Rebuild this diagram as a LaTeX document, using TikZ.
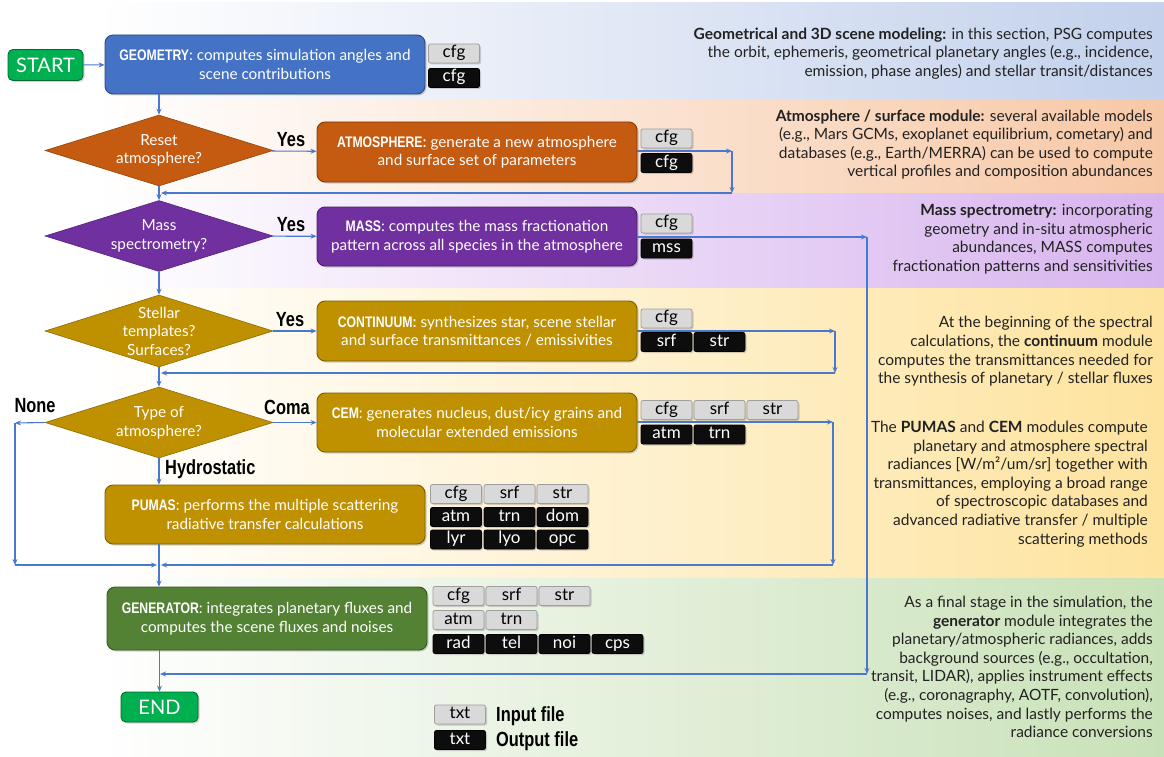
\documentclass[tikz,border=0pt]{standalone}
\usepackage{fontspec}
\setmainfont{Lato}
\newfontfamily\cond[FakeStretch=0.8]{Liberation Sans}
\usetikzlibrary{shapes.geometric,arrows.meta,shadows}
\definecolor{cgeo}{HTML}{4472C4}
\definecolor{catm}{HTML}{C55A11}
\definecolor{cmass}{HTML}{7030A0}
\definecolor{cgold}{HTML}{BF9000}
\definecolor{cgen}{HTML}{548235}
\definecolor{cstart}{HTML}{00B050}
\definecolor{carrow}{HTML}{4A78CC}
\definecolor{tagin}{HTML}{D9D9D9}
\definecolor{tagout}{HTML}{0D0D0D}
\definecolor{bblue}{HTML}{C3D1EC}
\definecolor{borange}{HTML}{F7C8A6}
\definecolor{bpurple}{HTML}{D7B4EE}
\definecolor{byellow}{HTML}{FEE39E}
\definecolor{bgreen}{HTML}{C9E1B8}
\definecolor{ntext}{HTML}{222222}
\newcommand\bxfont{\fontsize{15.3}{18.5}\selectfont}
\newcommand\ntfont{\fontsize{15.5}{18.6}\selectfont}
\newcommand\hd[1]{{\cond\bfseries #1}}
\begin{document}
\begin{tikzpicture}[x=1pt,y=-1pt,
  shd/.style={drop shadow={shadow xshift=1.5pt,shadow yshift=-1.5pt,opacity=0.35}},
  flowbox/.style={draw=#1!65!black, fill=#1, rounded corners=8pt, line width=0.9pt,
    minimum width=320pt, minimum height=59pt, inner sep=2pt, align=center,
    text=white, font=\bxfont, shd},
  termbox/.style={draw=cstart!60!black, fill=cstart, rounded corners=5pt, line width=0.9pt,
    minimum height=31pt, inner sep=2pt, text=white, font=\fontsize{20}{20}\selectfont, shd},
  decide/.style={diamond, draw=#1!75!black, fill=#1, line width=0.6pt, aspect=3.2,
    minimum width=228pt, minimum height=71pt, inner sep=0pt, align=center,
    text=white, font=\bxfont},
  intag/.style={draw=gray!75, fill=tagin, rounded corners=2pt, line width=0.8pt,
    minimum width=51pt, minimum height=19pt, inner sep=0pt,
    text height=11.5pt, text depth=3.5pt,
    font=\fontsize{17}{17}\selectfont, shd},
  outtag/.style={intag, draw=black, fill=tagout, text=white},
  arr/.style={draw=carrow, line width=1.1pt, -{Stealth[length=6pt,width=5pt]}},
  lab/.style={font=\fontsize{20.5}{20.5}\selectfont\cond\bfseries, inner sep=0pt},
  note/.style={align=right, anchor=east, text=ntext, font=\ntfont, inner sep=0pt}
]
\useasboundingbox (0,0) rectangle (1164,757);
\fill[white] (0,0) rectangle (1164,757);
% background bands
\shade[left color=white, right color=bblue] (95,3) rectangle (1164,100);
\shade[left color=white, right color=borange] (95,100) rectangle (1164,193);
\shade[left color=white, right color=bpurple] (95,193) rectangle (1164,288);
\shade[left color=white, right color=byellow] (95,288) rectangle (1164,578);
\shade[left color=white, right color=bgreen] (95,578) rectangle (1164,757);

% main flow
\node[termbox, minimum width=75pt] (start) at (45.5,65) {START};
\node[flowbox=cgeo] (geom) at (265,64.5) {\hd{GEOMETRY}: computes simulation angles and\\scene contributions};
\node[decide=catm] (d1) at (159,150.5) {Reset\\atmosphere?};
\node[flowbox=catm, minimum height=60pt] (atm) at (477,152) {\hd{ATMOSPHERE:} generate a new atmosphere\\and surface set of parameters};
\node[decide=cmass] (d2) at (159,236) {Mass\\spectrometry?};
\node[flowbox=cmass] (mass) at (477,236.5) {\hd{MASS}: computes the mass fractionation\\pattern across all species in the atmosphere};
\node[decide=cgold, minimum height=72pt] (d3) at (159,331) {Stellar\\templates?\\Surfaces?};
\node[flowbox=cgold, minimum height=60pt] (cont) at (477,331) {\hd{CONTINUUM:} synthesizes star, scene stellar\\and surface transmittances / emissivities};
\node[decide=cgold] (d4) at (159,422.5) {Type of\\atmosphere?};
\node[flowbox=cgold] (cem) at (477,422.5) {\hd{CEM}: generates nucleus, dust/icy grains and\\molecular extended emissions};
\node[flowbox=cgold] (pumas) at (265,514.5) {\hd{PUMAS}: performs the multiple scattering\\radiative transfer calculations};
\node[flowbox=cgen, minimum height=63pt] (gen) at (267,618.5) {\hd{GENERATOR}: integrates planetary fluxes and\\computes the scene fluxes and noises};
\node[termbox, minimum width=77pt, minimum height=30pt] (end) at (159.5,707) {END};

% file tags
\node[intag] (g1) at (454,53.5) {cfg};
\node[outtag] (g2) at (454,78) {cfg};
\node[intag] (at1) at (666.5,138.5) {cfg};
\node[outtag] (at2) at (666.5,163) {cfg};
\node[intag] (ms1) at (666.5,223.5) {cfg};
\node[outtag] (ms2) at (666.5,248.5) {mss};
\node[intag] (co1) at (666.5,318.5) {cfg};
\node[outtag] (co2) at (666.5,342) {srf};
\node[outtag] (co3) at (719.5,342) {str};
\node[intag] (ce1) at (666.5,410) {cfg};
\node[intag] (ce2) at (719.5,410) {srf};
\node[intag] (ce3) at (772.5,410) {str};
\node[outtag] (ce4) at (666.5,434.5) {atm};
\node[outtag] (ce5) at (719.5,434.5) {trn};
\node[intag] (pu1) at (456,494) {cfg};
\node[intag] (pu2) at (509.5,494) {srf};
\node[intag] (pu3) at (562.5,494) {str};
\node[outtag] (pu4) at (456,517) {atm};
\node[outtag] (pu5) at (509.5,517) {trn};
\node[outtag] (pu6) at (562.5,517) {dom};
\node[outtag] (pu7) at (456,539.5) {lyr};
\node[outtag] (pu8) at (509.5,539.5) {lyo};
\node[outtag] (pu9) at (562.5,539.5) {opc};
\node[intag] (ge1) at (458.5,596) {cfg};
\node[intag] (ge2) at (511.5,596) {srf};
\node[intag] (ge3) at (564.5,596) {str};
\node[intag] (ge4) at (458.5,620) {atm};
\node[intag] (ge5) at (511.5,620) {trn};
\node[outtag] (ge6) at (458.5,644) {rad};
\node[outtag] (ge7) at (511.5,644) {tel};
\node[outtag] (ge8) at (564.5,644) {noi};
\node[outtag] (ge9) at (617.5,644) {cps};
% legend
\node[intag] (lg1) at (460,714.5) {txt};
\node[outtag] (lg2) at (460,740) {txt};
\node[lab, anchor=west] (lgt1) at (496,716) {Input file};
\node[lab, anchor=west] (lgt2) at (496,741) {Output file};

% labels
\node[lab] (y1) at (291,140) {Yes};
\node[lab] (y2) at (291,225) {Yes};
\node[lab] (y3) at (290,320) {Yes};
\node[lab] (lnone) at (35,406) {None};
\node[lab] (lcoma) at (287,407) {Coma};
\node[lab, anchor=west] (lhyd) at (165,469) {Hydrostatic};

% coordinates for loops
\coordinate (m1) at (159,193);
\coordinate (m2) at (159,373);
\coordinate (m3) at (159,565);
\coordinate (m4) at (159,674);
\coordinate (a1) at (732,151);
\coordinate (a2) at (732,193);
\coordinate (b1) at (867,237);
\coordinate (b2) at (867,674);
\coordinate (c1) at (835,331);
\coordinate (c2) at (835,373);
\coordinate (e1) at (833,422);
\coordinate (e2) at (833,565);
\coordinate (n1) at (15,423);
\coordinate (n2) at (15,565);

% connectors
\draw[arr] (start) -- (geom);
\draw[arr] (d1.north |- geom.south) -- (d1.north);
\draw[arr] (d1) -- (atm);
\draw[arr] (d1.south) -- (d2.north);
\draw[arr] (d2) -- (mass);
\draw[arr] (d2.south) -- (d3.north);
\draw[arr] (d3) -- (cont);
\draw[arr] (d3.south) -- (d4.north);
\draw[arr] (d4) -- (cem);
\draw[arr] (d4.south) -- (pumas.north -| d4.south);
\draw[arr] (pumas.south -| d4.south) -- (gen.north -| d4.south);
\draw[arr] (gen.south -| end.north) -- (end.north);
% atmosphere loop
\draw[arr] (atm.east |- a1) -- (a1);
\draw[arr] (a1) -- (a2);
\draw[arr] (a2) -- ([xshift=2pt]m1);
% mass loop
\draw[arr] (mass.east |- b1) -- (b1);
\draw[arr] (b1) -- (b2);
\draw[arr] (b2) -- ([xshift=1pt]m4);
% continuum loop
\draw[arr] (cont.east |- c1) -- (c1);
\draw[arr] (c1) -- (c2);
\draw[arr] (c2) -- ([xshift=2pt]m2);
% cem loop
\draw[arr] (cem.east |- e1) -- (e1);
\draw[arr] (e1) -- (e2);
\draw[arr] (e2) -- ([xshift=2pt]m3);
% none branch
\draw[arr] (d4.west) -- (n1);
\draw[arr] (n1) -- (n2);
\draw[arr] (n2) -- ([xshift=-2pt]m3);

% side notes
\node[note] (t1) at (1153,53.5) {\textbf{Geometrical and 3D scene modeling:} in this section, PSG computes\\the orbit, ephemeris, geometrical planetary angles (e.g., incidence,\\emission, phase angles) and stellar transit/distances};
\node[note] (t2) at (1153,144.5) {\textbf{Atmosphere / surface module:} several available models\\(e.g., Mars GCMs, exoplanet equilibrium, cometary) and\\databases (e.g., Earth/MERRA) can be used to compute\\vertical profiles and composition abundances};
\node[note] (t3) at (1153,239) {\textbf{Mass spectrometry:} incorporating\\geometry and in-situ atmospheric\\abundances, MASS computes\\fractionation patterns and sensitivities};
\node[note] (t4) at (1153,351.5) {At the beginning of the spectral\\calculations, the \textbf{continuum} module\\computes the transmittances needed for\\the synthesis of planetary / stellar fluxes};
\node[note] (t5) at (1148,484) {The \textbf{PUMAS} and \textbf{CEM} modules compute\\planetary and atmosphere spectral\\radiances [W/m²/um/sr] together with\\transmittances, employing a broad range\\of spectroscopic databases and\\advanced radiative transfer / multiple\\scattering methods};
\node[note] (t6) at (1153,667) {As a final stage in the simulation, the\\\textbf{generator} module integrates the\\planetary/atmospheric radiances, adds\\background sources (e.g., occultation,\\transit, LIDAR), applies instrument effects\\(e.g., coronagraphy, AOTF, convolution),\\computes noises, and lastly performs the\\radiance conversions};
\end{tikzpicture}
\end{document}
